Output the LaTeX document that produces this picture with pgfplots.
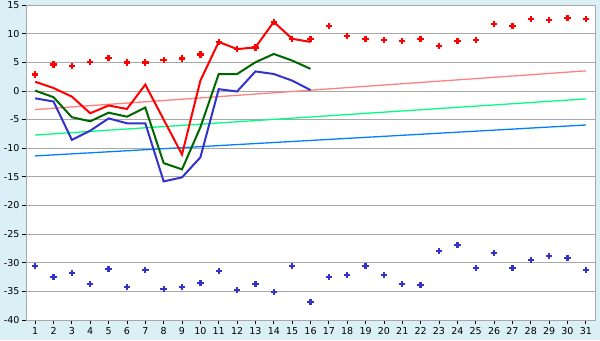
\documentclass[border=0pt]{standalone}
\usepackage{pgfplots}
\pgfplotsset{compat=1.18}
\usepackage{fontspec}
\setmainfont{DejaVu Sans}
\definecolor{bgblue}{RGB}{218,239,246}
\definecolor{gridgray}{RGB}{168,168,168}
\definecolor{maxred}{RGB}{255,0,0}
\definecolor{avggreen}{RGB}{0,102,0}
\definecolor{minblue}{RGB}{51,51,204}
\definecolor{trendpink}{RGB}{255,128,128}
\definecolor{trendgreen}{RGB}{0,255,128}
\definecolor{trendblue}{RGB}{0,128,255}
\begin{document}
\begin{tikzpicture}[x=1bp,y=1bp]
\fill[bgblue] (0,0) rectangle (600,340);
\begin{axis}[
  at={(26bp,20bp)}, anchor=south west,
  scale only axis, width=569bp, height=315bp,
  xmin=0.5, xmax=31.5, ymin=-40, ymax=15,
  xtick={1,...,31}, ytick={-40,-35,...,15},
  axis background/.style={fill=white},
  axis line style={draw=gridgray},
  ymajorgrids, grid style={draw=gridgray, line width=0.8bp},
  tick align=outside, major tick length=4bp,
  tick style={draw=black, line width=0.8bp},
  xtick pos=bottom, ytick pos=left,
  /pgf/number format/assume math mode=true,
  tick label style={font=\fontsize{9.5bp}{11bp}\selectfont},
  yticklabel style={xshift=1bp},
  clip=false,
]
% trend lines
\addplot[trendpink, line width=1.3bp] coordinates {(1,-3.25) (31,3.5)};
\addplot[trendgreen, line width=1.3bp] coordinates {(1,-7.7) (31,-1.4)};
\addplot[trendblue, line width=1.3bp] coordinates {(1,-11.35) (31,-5.95)};
% daily lines
\addplot[maxred, line width=2bp] coordinates {
(1,1.6) (2,0.5) (3,-1.0) (4,-3.9) (5,-2.55) (6,-3.15) (7,1.1) (8,-5.0) (9,-11.1) (10,1.8)
(11,8.55) (12,7.3) (13,7.6) (14,12.05) (15,9.1) (16,8.55)};
\addplot[avggreen, line width=2bp] coordinates {
(1,0.05) (2,-1.1) (3,-4.6) (4,-5.3) (5,-3.8) (6,-4.5) (7,-2.9) (8,-12.6) (9,-13.7) (10,-6.35)
(11,2.95) (12,2.95) (13,5.0) (14,6.45) (15,5.3) (16,3.85)};
\addplot[minblue, line width=2bp] coordinates {
(1,-1.3) (2,-1.85) (3,-8.55) (4,-6.95) (5,-4.8) (6,-5.65) (7,-5.65) (8,-15.8) (9,-15.1) (10,-11.6)
(11,0.3) (12,-0.1) (13,3.4) (14,2.95) (15,1.8) (16,0.15)};
% record highs
\addplot[only marks, mark=+, color=maxred, mark size=3.2bp, mark options={line width=2.3bp}] coordinates {
(1,2.85) (2,4.6) (3,4.35) (4,5.05) (5,5.75) (6,4.95) (7,4.95) (8,5.4) (9,5.65) (10,6.35)
(11,8.55) (12,7.3) (13,7.6) (14,12.05) (15,9.1) (16,9.1) (17,11.35) (18,9.6) (19,9.1) (20,8.9)
(21,8.7) (22,9.1) (23,7.85) (24,8.7) (25,8.9) (26,11.7) (27,11.35) (28,12.55) (29,12.4) (30,12.75) (31,12.55)};
% record lows
\addplot[only marks, mark=+, color=minblue, mark size=3.2bp, mark options={line width=2.3bp}] coordinates {
(1,-30.55) (2,-32.5) (3,-31.8) (4,-33.7) (5,-31.1) (6,-34.2) (7,-31.25) (8,-34.6) (9,-34.2) (10,-33.5)
(11,-31.45) (12,-34.75) (13,-33.7) (14,-35.1) (15,-30.55) (16,-36.85) (17,-32.5) (18,-32.15) (19,-30.55) (20,-32.15)
(21,-33.7) (22,-33.9) (23,-27.95) (24,-26.9) (25,-30.9) (26,-28.3) (27,-30.9) (28,-29.5) (29,-28.8) (30,-29.15) (31,-31.25)};
\end{axis}
\pgfresetboundingbox
\path (0,0) rectangle (600,340);
\end{tikzpicture}
\end{document}
